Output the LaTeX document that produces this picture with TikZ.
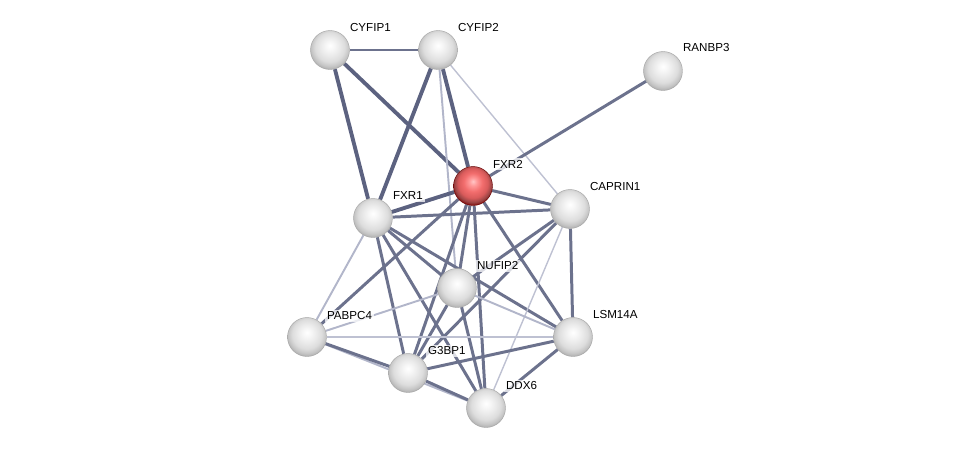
\documentclass[tikz,border=0pt]{standalone}
\usepackage{fontspec}
\setmainfont{Liberation Sans}
\usetikzlibrary{positioning, backgrounds, calc}

\definecolor{edgedark}{RGB}{92,98,128}
\definecolor{edgelight}{RGB}{178,182,202}

\pgfdeclareradialshading{greyball}{\pgfpoint{0bp}{6bp}}{%
	color(0bp)=(white); color(5bp)=(gray!6); color(12bp)=(gray!16);
	color(19bp)=(gray!27); color(24bp)=(gray!45); color(28bp)=(gray!65); color(50bp)=(gray!65)}
\pgfdeclareradialshading{redball}{\pgfpoint{0bp}{6bp}}{%
	color(0bp)=(red!22!white); color(5bp)=(red!40!white); color(12bp)=(red!55!white!95!black);
	color(19bp)=(red!58!white!85!black); color(24bp)=(red!55!white!60!black); color(28bp)=(red!50!black); color(50bp)=(red!50!black)}

\begin{document}
\begin{tikzpicture}[
		x=0.02cm, y=-0.02cm,
		font=\fontsize{6.6}{8}\selectfont,
		protein/.style={circle, minimum size=0.78cm, inner sep=0pt, shading=greyball, draw=gray!70, line width=0.25pt},
		query/.style={protein, shading=redball, draw=red!40!black},
		lbl/.style={anchor=west, inner sep=1pt, fill=white, fill opacity=0.75, text opacity=1},
		strong/.style={draw=edgedark, line width=2.2pt},
		medium/.style={draw=edgedark!90!white, line width=1.7pt},
		weak/.style={draw=edgelight, line width=1.1pt},
		faint/.style={draw=edgelight!85!white, line width=0.8pt}
		]
		\useasboundingbox (0,0) rectangle (975,453);
		
		% =========================================================
		% 1. Proteins
		% =========================================================
		\node[protein] (CYFIP1) at (330,50) {};
		\node[protein] (CYFIP2) at (438,50) {};
		\node[protein] (RANBP3) at (663,71) {};
		\node[query] (FXR2) at (473,186) {};
		\node[protein] (FXR1) at (373,218) {};
		\node[protein] (CAPRIN1) at (570,209) {};
		\node[protein] (NUFIP2) at (457,288) {};
		\node[protein] (PABPC4) at (307,337) {};
		\node[protein] (LSM14A) at (573,337) {};
		\node[protein] (G3BP1) at (408,373) {};
		\node[protein] (DDX6) at (486,408) {};
		
		% Labels
		\node[lbl] (CYFIP1-l) at ($(CYFIP1.center)+(18,-22)$) {CYFIP1};
		\node[lbl] (CYFIP2-l) at ($(CYFIP2.center)+(18,-22)$) {CYFIP2};
		\node[lbl] (RANBP3-l) at ($(RANBP3.center)+(18,-23)$) {RANBP3};
		\node[lbl] (FXR2-l) at ($(FXR2.center)+(18,-22)$) {FXR2};
		\node[lbl] (FXR1-l) at ($(FXR1.center)+(18,-22)$) {FXR1};
		\node[lbl] (CAPRIN1-l) at ($(CAPRIN1.center)+(18,-22)$) {CAPRIN1};
		\node[lbl] (NUFIP2-l) at ($(NUFIP2.center)+(18,-22)$) {NUFIP2};
		\node[lbl] (PABPC4-l) at ($(PABPC4.center)+(18,-21)$) {PABPC4};
		\node[lbl] (LSM14A-l) at ($(LSM14A.center)+(18,-22)$) {LSM14A};
		\node[lbl] (G3BP1-l) at ($(G3BP1.center)+(18,-22)$) {G3BP1};
		\node[lbl] (DDX6-l) at ($(DDX6.center)+(18,-22)$) {DDX6};
		
		% =========================================================
		% 2. Interactions (behind the balls)
		% =========================================================
		\begin{scope}[on background layer]
			% CYFIP block
			\draw[medium] (CYFIP1) -- (CYFIP2);
			\draw[strong] (CYFIP1) -- (FXR1);
			\draw[strong] (CYFIP1) -- (FXR2);
			\draw[strong] (CYFIP2) -- (FXR1);
			\draw[strong] (CYFIP2) -- (FXR2);
			\draw[weak] (CYFIP2) -- (NUFIP2);
			\draw[faint] (CYFIP2) -- (CAPRIN1);
			\draw[medium] (RANBP3) -- (FXR2);
			
			% FXR2
			\draw[strong] (FXR2) -- (FXR1);
			\draw[medium] (FXR2) -- (CAPRIN1);
			\draw[medium] (FXR2) -- (NUFIP2);
			\draw[medium] (FXR2) -- (G3BP1);
			\draw[medium] (FXR2) -- (DDX6);
			\draw[medium] (FXR2) -- (LSM14A);
			\draw[medium] (FXR2) -- (PABPC4);
			
			% FXR1
			\draw[medium] (FXR1) -- (CAPRIN1);
			\draw[weak] (FXR1) -- (PABPC4);
			\draw[medium] (FXR1) -- (G3BP1);
			\draw[medium] (FXR1) -- (DDX6);
			\draw[medium] (FXR1) -- (NUFIP2);
			\draw[medium] (FXR1) -- (LSM14A);
			
			% CAPRIN1
			\draw[medium] (CAPRIN1) -- (G3BP1);
			\draw[medium] (CAPRIN1) -- (NUFIP2);
			\draw[medium] (CAPRIN1) -- (LSM14A);
			\draw[faint] (CAPRIN1) -- (DDX6);
			
			% NUFIP2
			\draw[weak] (NUFIP2) -- (PABPC4);
			\draw[medium] (NUFIP2) -- (G3BP1);
			\draw[medium] (NUFIP2) -- (DDX6);
			\draw[weak] (NUFIP2) -- (LSM14A);
			
			% lower ring
			\draw[faint] (PABPC4) -- (LSM14A);
			\draw[weak] (PABPC4) -- (DDX6);
			\draw[medium] (PABPC4) -- (G3BP1);
			\draw[medium] (G3BP1) -- (LSM14A);
			\draw[medium] (G3BP1) -- (DDX6);
			\draw[medium] (LSM14A) -- (DDX6);
		\end{scope}
	\end{tikzpicture}
\end{document}
